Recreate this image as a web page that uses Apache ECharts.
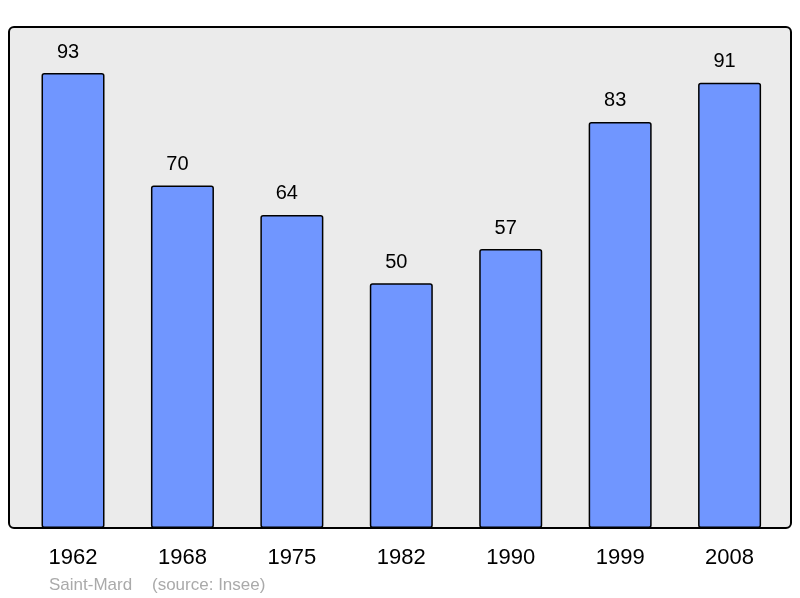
<!DOCTYPE html>
<html><head><meta charset="utf-8">
<script src="https://cdn.jsdelivr.net/npm/echarts@6/dist/echarts.min.js"></script>
<style>html,body{margin:0;padding:0;background:#fff}#c{width:800px;height:598px}</style>
</head><body><div id="c"></div>
<script>
const years = ['1962','1968','1975','1982','1990','1999','2008'];
const population = [93,70,64,50,57,83,91];
const place = 'Saint-Mard';
const source = '(source: Insee)';
const FONT = 'Liberation Sans, Arial, sans-serif';

const chart = echarts.init(document.getElementById('c'), null, {renderer:'canvas'});
chart.setOption({
  animation:false,
  grid:[
    {left:18.3, top:27, width:766, height:501}
  ],
  xAxis:[
    {type:'category', data:years,
     axisLine:{show:false}, axisTick:{show:false},
     axisLabel:{color:'#000', fontSize:22, fontFamily:FONT, margin:19}}
  ],
  yAxis:[
    {type:'value', min:0, max:102.4, show:false, splitLine:{show:false}}
  ],
  series:[{
    type:'bar', data:population, barWidth:63, z:5,
    itemStyle:{color:'#7096ff', borderColor:'#000', borderWidth:1.5, borderRadius:2},
    label:{show:true, position:'top', distance:11, offset:[-5,0], color:'#000', fontSize:20, fontFamily:FONT}
  }],
  graphic:[
    {type:'rect', left:8, top:26, z:0, silent:true,
     shape:{width:782, height:501, r:5},
     style:{fill:'#ebebeb', stroke:'#000', lineWidth:2}},
    {type:'text', left:49, top:577, style:{text:place, fill:'#aaaaaa', fontSize:17, fontFamily:FONT}},
    {type:'text', left:152, top:577, style:{text:source, fill:'#aaaaaa', fontSize:17, fontFamily:FONT}}
  ]
});
</script></body></html>
